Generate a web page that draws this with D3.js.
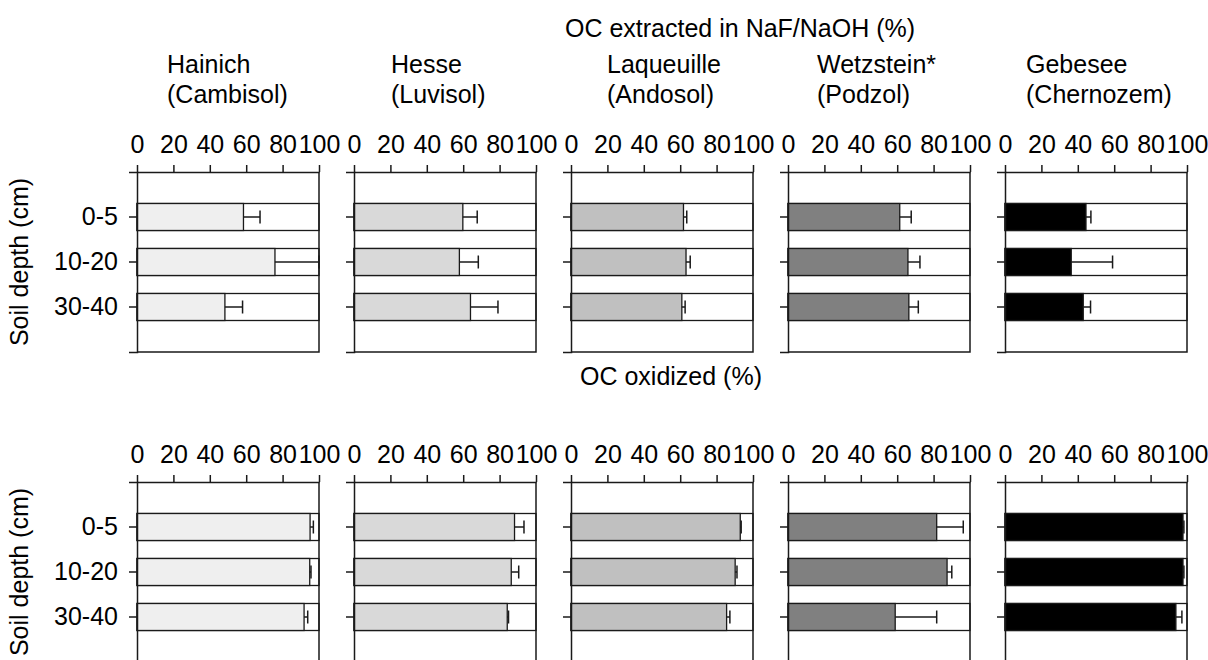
<!DOCTYPE html>
<html>
<head>
<meta charset="utf-8">
<script src="https://cdn.jsdelivr.net/npm/d3@7"></script>
<style>
  body { margin: 0; background: #fff; }
  text { font-family: Arial, "Liberation Sans", sans-serif; fill: #000; }
  .axis text { font-size: 25px; }
  .axis path, .axis line { stroke: #1a1a1a; stroke-width: 1.5; }
</style>
</head>
<body>
<div id="chart"></div>
<script>
// Sites and soil types (panel titles)
const sites = ['Hainich', 'Hesse', 'Laqueuille', 'Wetzstein*', 'Gebesee'];
const soils = ['(Cambisol)', '(Luvisol)', '(Andosol)', '(Podzol)', '(Chernozem)'];
const depths = ['0-5', '10-20', '30-40'];
const xTicks = [0, 20, 40, 60, 80, 100];

// OC extracted in NaF/NaOH (%), one row per site, one value per depth
const extractedMean = [
  [58.5, 75.8, 48.3],
  [59.8, 57.9, 64.0],
  [61.8, 63.2, 60.9],
  [61.4, 65.9, 66.4],
  [44.5, 36.4, 43.0]
];
const extractedErr = [
  [9.1, 24.2, 9.7],
  [7.9, 10.4, 15.1],
  [1.8, 2.3, 1.8],
  [6.3, 6.6, 5.2],
  [2.7, 22.7, 4.0]
];

// OC oxidized (%)
const oxidizedMean = [
  [95.1, 94.9, 91.8],
  [88.2, 86.4, 84.2],
  [93.0, 90.2, 85.5],
  [81.7, 87.4, 58.9],
  [97.8, 97.8, 93.9]
];
const oxidizedErr = [
  [1.8, 0.7, 2.0],
  [5.2, 4.1, 0.7],
  [0.5, 1.0, 1.8],
  [14.6, 2.6, 22.8],
  [0.5, 0.5, 3.3]
];

const config = {
  width: 1208,
  height: 660,
  panelLeft: 137,
  panelLastLeft: 1005,
  panelWidth: 182,
  panelHeight: 180,
  rowTops: [172, 482],
  rowTitles: ['OC extracted in NaF/NaOH (%)', 'OC oxidized (%)'],
  rowTitleX: [565, 580],
  rowTitleY: [37, 385],
  titleOffsets: [30, 37, 36, 29, 21],
  colors: ['#efefef', '#d9d9d9', '#c0c0c0', '#808080', '#000000'],
  capHeight: 13
};

const svg = d3.select('#chart').append('svg')
    .attr('width', config.width)
    .attr('height', config.height);

// Horizontal placement of the five site panels
const panelX = d3.scalePoint()
    .domain(sites)
    .range([config.panelLeft, config.panelLastLeft]);

const xScale = d3.scaleLinear()
    .domain([0, 100])
    .range([0, config.panelWidth]);

const yScale = d3.scaleBand()
    .domain(depths)
    .range([0, config.panelHeight])
    .paddingInner(0.4)
    .paddingOuter(0.7);

function drawPanel(row, siteIndex, means, errs) {
  const site = sites[siteIndex];
  const top = config.rowTops[row];
  const g = svg.append('g')
      .attr('transform', `translate(${panelX(site)},${top})`);

  const values = depths.map((d, i) => ({depth: d, mean: means[siteIndex][i], err: errs[siteIndex][i]}));

  // background (0-100) rectangles
  g.selectAll('.bar-bg')
      .data(values)
    .join('rect')
      .attr('class', 'bar-bg')
      .attr('x', xScale(0))
      .attr('y', d => yScale(d.depth))
      .attr('width', xScale(100) - xScale(0))
      .attr('height', yScale.bandwidth())
      .attr('fill', '#fff')
      .attr('stroke', '#1a1a1a')
      .attr('stroke-width', 1.3);

  g.selectAll('.bar')
      .data(values)
    .join('rect')
      .attr('class', 'bar')
      .attr('x', xScale(0))
      .attr('y', d => yScale(d.depth))
      .attr('width', d => xScale(d.mean) - xScale(0))
      .attr('height', yScale.bandwidth())
      .attr('fill', config.colors[siteIndex])
      .attr('stroke', '#1a1a1a')
      .attr('stroke-width', 1.3);

  // one-sided error bars
  const err = g.selectAll('.err')
      .data(values)
    .join('g')
      .attr('class', 'err')
      .attr('stroke', '#1a1a1a')
      .attr('stroke-width', 1.5);
  err.append('line')
      .attr('x1', d => xScale(d.mean))
      .attr('x2', d => xScale(Math.min(100, d.mean + d.err)))
      .attr('y1', d => yScale(d.depth) + yScale.bandwidth() / 2)
      .attr('y2', d => yScale(d.depth) + yScale.bandwidth() / 2);
  err.append('line')
      .attr('x1', d => xScale(Math.min(100, d.mean + d.err)))
      .attr('x2', d => xScale(Math.min(100, d.mean + d.err)))
      .attr('y1', d => yScale(d.depth) + yScale.bandwidth() / 2 - config.capHeight / 2)
      .attr('y2', d => yScale(d.depth) + yScale.bandwidth() / 2 + config.capHeight / 2);

  // frame: right edge and bottom
  g.append('path')
      .attr('d', `M${xScale(100)},0V${config.panelHeight}H${xScale(0)}`)
      .attr('fill', 'none')
      .attr('stroke', '#1a1a1a')
      .attr('stroke-width', 1.5);

  // top axis
  g.append('g')
      .attr('class', 'axis')
      .call(d3.axisTop(xScale).tickValues(xTicks).tickSize(7).tickSizeOuter(0).tickPadding(12))
      .call(a => a.selectAll('text').attr('fill', '#000'));

  // left axis, labels only on the first panel
  g.append('g')
      .attr('class', 'axis')
      .call(d3.axisLeft(yScale).tickSize(8).tickSizeOuter(8).tickPadding(11)
        .tickFormat(siteIndex === 0 ? d => d : ''))
      .call(a => a.selectAll('text').attr('fill', '#000'));

  // site titles on the upper row
  if (row === 0) {
    const t = svg.append('text')
        .attr('x', panelX(site) + config.titleOffsets[siteIndex])
        .attr('y', 73)
        .attr('font-size', 25);
    t.append('tspan').text(site);
    t.append('tspan')
        .attr('x', panelX(site) + config.titleOffsets[siteIndex])
        .attr('dy', 29.5)
        .text(soils[siteIndex]);
  }
}

[extractedMean, oxidizedMean].forEach((means, row) => {
  const errs = row === 0 ? extractedErr : oxidizedErr;
  sites.forEach((s, i) => drawPanel(row, i, means, errs));

  svg.append('text')
      .attr('x', config.rowTitleX[row])
      .attr('y', config.rowTitleY[row])
      .attr('font-size', 25)
      .text(config.rowTitles[row]);

  const mid = config.rowTops[row] + config.panelHeight / 2;
  svg.append('text')
      .attr('transform', `translate(28,${mid}) rotate(-90)`)
      .attr('text-anchor', 'middle')
      .attr('font-size', 25)
      .text('Soil depth (cm)');
});
</script>
</body>
</html>
